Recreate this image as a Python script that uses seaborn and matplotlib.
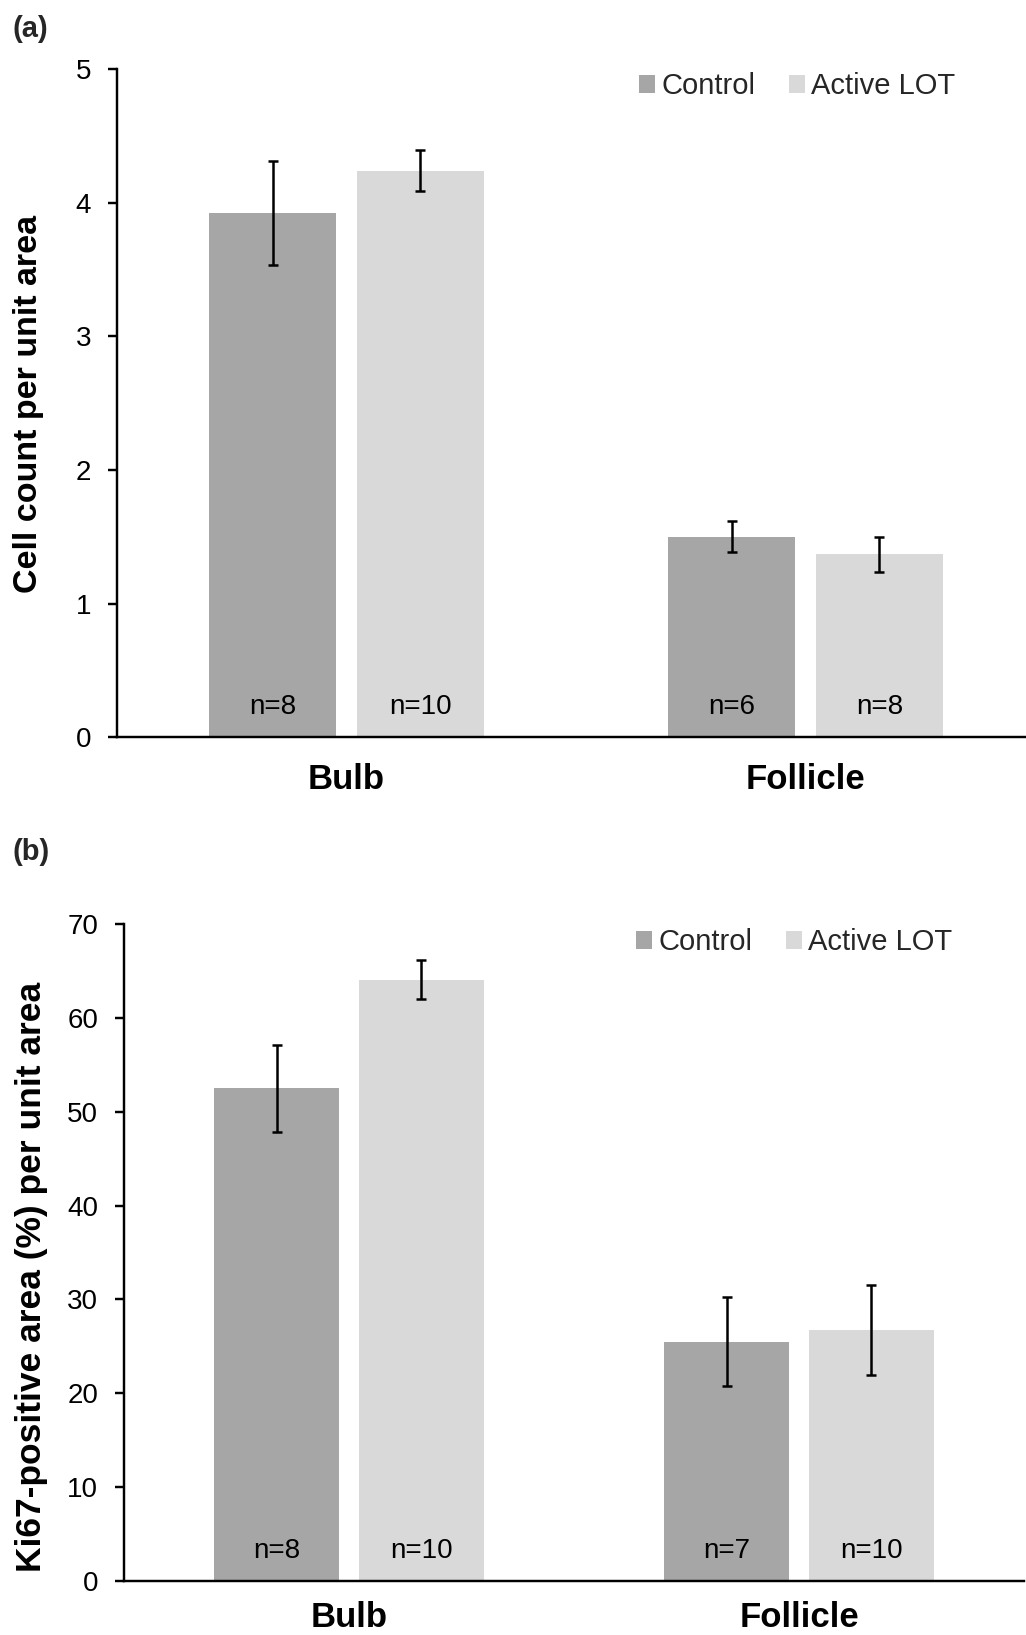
import matplotlib
matplotlib.use("Agg")
import numpy as np
import pandas as pd
import seaborn as sns
import matplotlib.pyplot as plt

# ---------------- data ----------------
categories = ["Bulb", "Follicle"]
groups = ["Control", "Active LOT"]

a_control = [3.92, 1.50]
a_active = [4.24, 1.37]
a_control_err = [0.39, 0.115]
a_active_err = [0.155, 0.13]
a_control_n = ["n=8", "n=6"]
a_active_n = ["n=10", "n=8"]
a_yticks = [0, 1, 2, 3, 4, 5]
a_ylabel = "Cell count per unit area"

b_control = [52.5, 25.5]
b_active = [64.1, 26.7]
b_control_err = [4.65, 4.72]
b_active_err = [2.1, 4.8]
b_control_n = ["n=8", "n=7"]
b_active_n = ["n=10", "n=10"]
b_yticks = [0, 10, 20, 30, 40, 50, 60, 70]
b_ylabel = "Ki67-positive area (%) per unit area"

colors = {"Control": "#A6A6A6", "Active LOT": "#D9D9D9"}

sns.set_theme(style="ticks")
plt.rcParams["font.family"] = ["Liberation Sans", "DejaVu Sans"]

W, H = 1026, 1635
fig = plt.figure(figsize=(W / 100, H / 100), dpi=100)


def make_panel(rect, ctrl, act, ctrl_err, act_err, ctrl_n, act_n, yticks,
               ylabel, ylabel_size, ylabel_xy, legend_xy, xpad):
    ax = fig.add_axes(rect)
    df = pd.DataFrame({
        "category": categories * 2,
        "group": [groups[0]] * 2 + [groups[1]] * 2,
        "value": list(ctrl) + list(act),
    })
    sns.barplot(data=df, x="category", y="value", hue="group",
                order=categories, hue_order=groups, palette=colors,
                errorbar=None, width=0.643, gap=0.14, linewidth=0,
                saturation=1, ax=ax)
    bar_conts = list(ax.containers)
    errs = [ctrl_err, act_err]
    labels_n = [ctrl_n, act_n]
    for cont, err, nl in zip(bar_conts, errs, labels_n):
        xs = [p.get_x() + p.get_width() / 2 for p in cont.patches]
        ys = [p.get_height() for p in cont.patches]
        ax.errorbar(xs, ys, yerr=err, fmt="none", ecolor="black",
                    elinewidth=1.8, capsize=3.9, capthick=1.8, zorder=5)
        for x, t in zip(xs, nl):
            ax.text(x, 0.035, t, transform=ax.get_xaxis_transform(),
                    ha="center", va="baseline", fontsize=20, color="black")
    ax.set_xlim(-0.5, 1.5)
    ax.set_ylim(yticks[0], yticks[-1])
    ax.set_yticks(yticks)
    ax.set_yticklabels([str(t) for t in yticks])
    ax.set_xlabel("")
    ax.set_ylabel(ylabel, fontsize=ylabel_size, fontweight="bold", color="black")
    ax.yaxis.set_label_coords(*ylabel_xy)
    ax.tick_params(axis="y", direction="out", length=6.5, width=1.75,
                   pad=12, labelsize=20, colors="black")
    ax.tick_params(axis="x", length=0, pad=xpad, labelsize=25)
    for lab in ax.get_xticklabels():
        lab.set_fontweight("bold")
        lab.set_color("black")
    sns.despine(ax=ax, top=True, right=True)
    for s in ["left", "bottom"]:
        ax.spines[s].set_linewidth(1.75)
        ax.spines[s].set_color("black")
    ax.set_facecolor("white")
    leg = ax.get_legend()
    if leg is not None:
        leg.remove()
    handles = [c.patches[0] for c in bar_conts]
    ax.legend(handles, groups, loc="center left",
              bbox_to_anchor=legend_xy, bbox_transform=fig.transFigure,
              frameon=False, ncol=2, fontsize=21, handlelength=0.56,
              handleheight=0.56, handletextpad=0.2, columnspacing=1.15,
              borderpad=0, borderaxespad=0)
    return ax


# panel (a)
a_left, a_right, a_top, a_bot = 117, 1035, 69, 737.3
ax1 = make_panel([a_left / W, 1 - a_bot / H, (a_right - a_left) / W, (a_bot - a_top) / H],
                 a_control, a_active, a_control_err, a_active_err,
                 a_control_n, a_active_n, a_yticks, a_ylabel, 24.5,
                 ((44 - a_left) / (a_right - a_left), (a_bot - 404) / (a_bot - a_top)),
                 (639 / W, 1 - 86 / H), 18.5)

# panel (b)
b_left, b_right, b_top, b_bot = 124, 1024, 924.3, 1580.7
ax2 = make_panel([b_left / W, 1 - b_bot / H, (b_right - b_left) / W, (b_bot - b_top) / H],
                 b_control, b_active, b_control_err, b_active_err,
                 b_control_n, b_active_n, b_yticks, b_ylabel, 25.5,
                 ((48 - b_left) / (b_right - b_left), (b_bot - 1277) / (b_bot - b_top)),
                 (636 / W, 1 - 942 / H), 14.5)

fig.text(13 / W, 1 - 29 / H, "(a)", fontsize=21, fontweight="bold",
         ha="left", va="center")
fig.text(13 / W, 1 - 852 / H, "(b)", fontsize=21, fontweight="bold",
         ha="left", va="center")

fig.savefig("out.png", dpi=100, facecolor="white")
